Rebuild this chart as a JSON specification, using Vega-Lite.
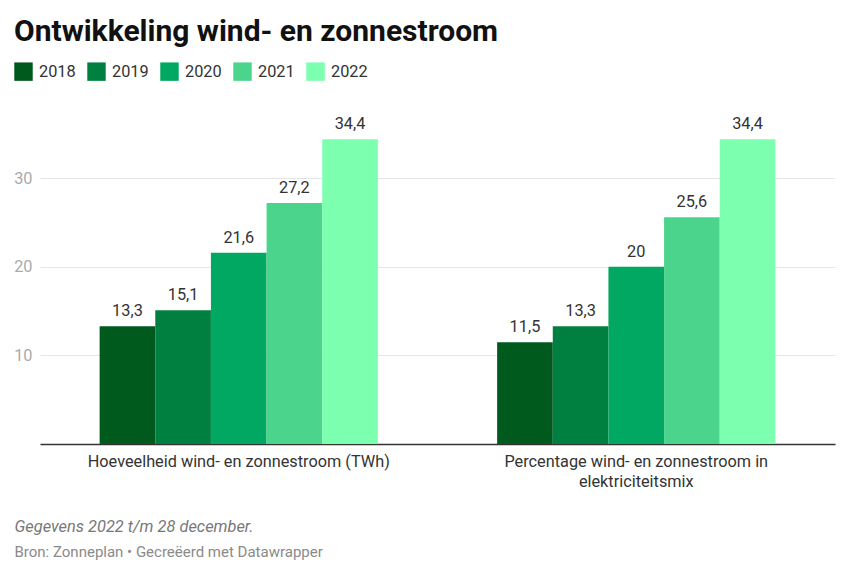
{
  "$schema": "https://vega.github.io/schema/vega-lite/v6.json",
  "autosize": {"type": "none"},
  "padding": {"left": 40, "top": 134, "right": 14, "bottom": 131},
  "width": 795,
  "height": 310,
  "background": "white",
  "title": {
    "text": "Ontwikkeling wind- en zonnestroom",
    "anchor": "start",
    "frame": "group",
    "dx": -26,
    "offset": 15,
    "font": "Roboto",
    "fontSize": 30,
    "fontWeight": "bold",
    "color": "#111111"
  },
  "data": {
    "values": [
      {"categorie": "Hoeveelheid wind- en zonnestroom (TWh)", "jaar": "2018", "waarde": 13.3},
      {"categorie": "Hoeveelheid wind- en zonnestroom (TWh)", "jaar": "2019", "waarde": 15.1},
      {"categorie": "Hoeveelheid wind- en zonnestroom (TWh)", "jaar": "2020", "waarde": 21.6},
      {"categorie": "Hoeveelheid wind- en zonnestroom (TWh)", "jaar": "2021", "waarde": 27.2},
      {"categorie": "Hoeveelheid wind- en zonnestroom (TWh)", "jaar": "2022", "waarde": 34.4},
      {"categorie": "Percentage wind- en zonnestroom in elektriciteitsmix", "jaar": "2018", "waarde": 11.5},
      {"categorie": "Percentage wind- en zonnestroom in elektriciteitsmix", "jaar": "2019", "waarde": 13.3},
      {"categorie": "Percentage wind- en zonnestroom in elektriciteitsmix", "jaar": "2020", "waarde": 20},
      {"categorie": "Percentage wind- en zonnestroom in elektriciteitsmix", "jaar": "2021", "waarde": 25.6},
      {"categorie": "Percentage wind- en zonnestroom in elektriciteitsmix", "jaar": "2022", "waarde": 34.4}
    ]
  },
  "encoding": {
    "x": {
      "field": "categorie",
      "type": "nominal",
      "sort": null,
      "scale": {"paddingInner": 0.3, "paddingOuter": 0.15},
      "axis": {
        "title": "Gegevens 2022 t/m 28 december.",
        "titleX": -26,
        "titleY": 82,
        "titleAlign": "left",
        "titleBaseline": "middle",
        "titleAnchor": null,
        "titleFont": "Roboto",
        "titleFontSize": 16.4,
        "titleFontStyle": "italic",
        "titleFontWeight": "normal",
        "titleColor": "#777777",
        "labelAngle": 0,
        "labelFont": "Roboto",
        "labelFontSize": 16.3,
        "labelColor": "#333333",
        "labelPadding": 9,
        "labelLineHeight": 20,
        "labelLimit": 0,
        "labelExpr": "indexof(datum.value, 'Percentage') == 0 ? ['Percentage wind- en zonnestroom in', 'elektriciteitsmix'] : datum.label",
        "ticks": false,
        "domainColor": "#333333",
        "domainWidth": 1.5
      }
    },
    "xOffset": {"field": "jaar", "type": "nominal", "scale": {"paddingInner": 0, "paddingOuter": 0}},
    "y": {
      "field": "waarde",
      "type": "quantitative",
      "scale": {"domain": [0, 35], "nice": false},
      "axis": {
        "title": "Bron: Zonneplan • Gecreëerd met Datawrapper",
        "titleAngle": 0,
        "titleX": -26,
        "titleY": 417,
        "titleAlign": "left",
        "titleBaseline": "middle",
        "titleAnchor": null,
        "titleFont": "Roboto",
        "titleFontSize": 15,
        "titleFontWeight": "normal",
        "titleColor": "#8a8a8a",
        "values": [10, 20, 30],
        "labelFont": "Roboto",
        "labelFontSize": 16.3,
        "labelColor": "#aaaaaa",
        "labelPadding": 8,
        "ticks": false,
        "domain": false,
        "gridColor": "#e5e5e5",
        "gridWidth": 1
      }
    }
  },
  "layer": [
    {
      "mark": {"type": "bar"},
      "encoding": {
        "color": {
          "field": "jaar",
          "type": "nominal",
          "scale": {
            "domain": ["2018", "2019", "2020", "2021", "2022"],
            "range": ["#005a1e", "#008040", "#00a862", "#4bd48c", "#7dffb0"]
          },
          "legend": {
            "title": null,
            "orient": "none",
            "legendX": -26,
            "legendY": -72,
            "direction": "horizontal",
            "columns": 5,
            "symbolType": "square",
            "symbolSize": 340,
            "symbolStrokeWidth": 0,
            "symbolOpacity": 1,
            "labelFont": "Roboto",
            "labelFontSize": 16.3,
            "labelColor": "#333333",
            "labelOffset": 6,
            "columnPadding": 11
          }
        }
      }
    },
    {
      "mark": {
        "type": "text",
        "baseline": "alphabetic",
        "dy": -10,
        "font": "Roboto",
        "fontSize": 16.3,
        "color": "#333333"
      },
      "encoding": {
        "text": {"field": "waarde", "type": "quantitative", "format": "~g"}
      }
    }
  ],
  "config": {
    "view": {"stroke": null},
    "font": "Roboto",
    "locale": {
      "number": {"decimal": ",", "thousands": ".", "grouping": [3], "currency": ["€", ""]}
    }
  }
}
